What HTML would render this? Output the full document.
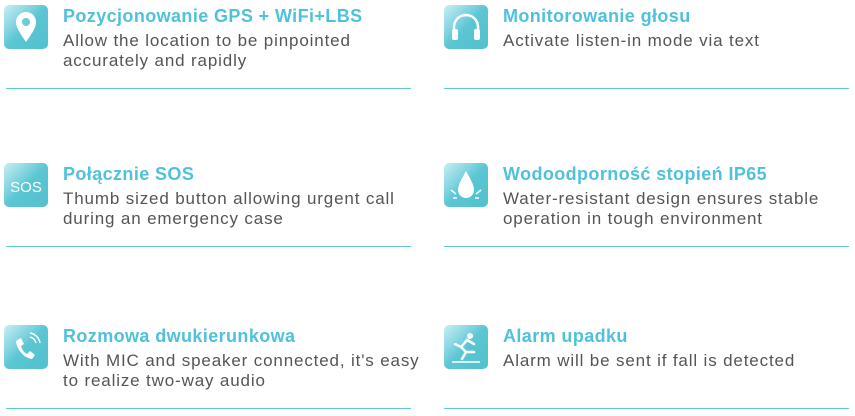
<!DOCTYPE html>
<html><head><meta charset="utf-8"><style>
body{margin:0;width:855px;height:416px;background:#fff;position:relative;overflow:hidden;font-family:"Liberation Sans",sans-serif}
.item{position:absolute;width:410px;height:90px}
.icon{position:absolute;left:0;top:0;width:44px;height:44px;border-radius:5px;background:linear-gradient(135deg,#c9eef3 0%,#7fd3df 35%,#5cc6d3 50%,#52c0cd 100%)}
.icon svg{position:absolute;left:0;top:0}
.title{position:absolute;left:59px;top:1px;font-size:18px;font-weight:bold;color:#4fc1dc;letter-spacing:0.4px;white-space:nowrap}
.desc{position:absolute;left:59px;top:26px;font-size:17px;color:#555;line-height:20px;letter-spacing:0.85px;white-space:nowrap}
.line{position:absolute;left:2px;top:83px;width:405px;height:1px;background:#5fc8d5}
.r .line{left:0}
</style></head><body>
<div class="item" style="left:4px;top:5px">
 <div class="icon"><svg width="44" height="44"><path d="M22 37 C15 27 12 22 12 17 A10 10 0 0 1 32 17 C32 22 29 27 22 37Z" fill="#fff"/><circle cx="22" cy="17" r="4" fill="#6ccbd7"/></svg></div>
 <div class="title">Pozycjonowanie GPS + WiFi+LBS</div>
 <div class="desc">Allow the location to be pinpointed<br>accurately and rapidly</div>
 <div class="line"></div>
</div>
<div class="item r" style="left:444px;top:5px">
 <div class="icon"><svg width="44" height="44"><path d="M10 28 V22 A12 12 0 0 1 34 22 V28" stroke="#fff" stroke-width="2.5" fill="none"/><rect x="8" y="24" width="6" height="11" rx="2" fill="#fff"/><rect x="30" y="24" width="6" height="11" rx="2" fill="#fff"/></svg></div>
 <div class="title">Monitorowanie głosu</div>
 <div class="desc">Activate listen-in mode via text</div>
 <div class="line"></div>
</div>
<div class="item" style="left:4px;top:163px">
 <div class="icon"><svg width="44" height="44"><text x="22" y="29" text-anchor="middle" font-family="Liberation Sans,sans-serif" font-size="15" fill="#fff">SOS</text></svg></div>
 <div class="title">Połącznie SOS</div>
 <div class="desc">Thumb sized button allowing urgent call<br>during an emergency case</div>
 <div class="line"></div>
</div>
<div class="item r" style="left:444px;top:163px">
 <div class="icon"><svg width="44" height="44"><path d="M22 8 C17 17 14 22 14 27 A8 8 0 0 0 30 27 C30 22 27 17 22 8Z" fill="#fff"/><path d="M7 27 L12 31 M37 27 L32 31 M9 35 L13 35 M35 35 L31 35" stroke="#fff" stroke-width="1.5"/></svg></div>
 <div class="title">Wodoodporność stopień IP65</div>
 <div class="desc">Water-resistant design ensures stable<br>operation in tough environment</div>
 <div class="line"></div>
</div>
<div class="item" style="left:4px;top:325px">
 <div class="icon"><svg width="44" height="44"><path d="M12 16 L17 13 L20 19 L17 21 C18 25 20 27 23 29 L26 26 L31 30 L28 34 C20 33 13 25 12 16Z" fill="#fff"/><path d="M26 12 A8 8 0 0 1 32 18 M26 8 A12 12 0 0 1 36 18" stroke="#fff" stroke-width="1.5" fill="none"/></svg></div>
 <div class="title">Rozmowa dwukierunkowa</div>
 <div class="desc">With MIC and speaker connected, it's easy<br>to realize two-way audio</div>
 <div class="line"></div>
</div>
<div class="item r" style="left:444px;top:325px">
 <div class="icon"><svg width="44" height="44"><circle cx="26" cy="11" r="3" fill="#fff"/><path d="M23 15 L17 22 L22 27 L18 34 M17 22 L11 19 M22 27 L30 27 M23 15 L30 19" stroke="#fff" stroke-width="2.5" fill="none" stroke-linecap="round"/><path d="M8 37 L36 37" stroke="#fff" stroke-width="1.5"/></svg></div>
 <div class="title">Alarm upadku</div>
 <div class="desc">Alarm will be sent if fall is detected</div>
 <div class="line"></div>
</div>
</body></html>
